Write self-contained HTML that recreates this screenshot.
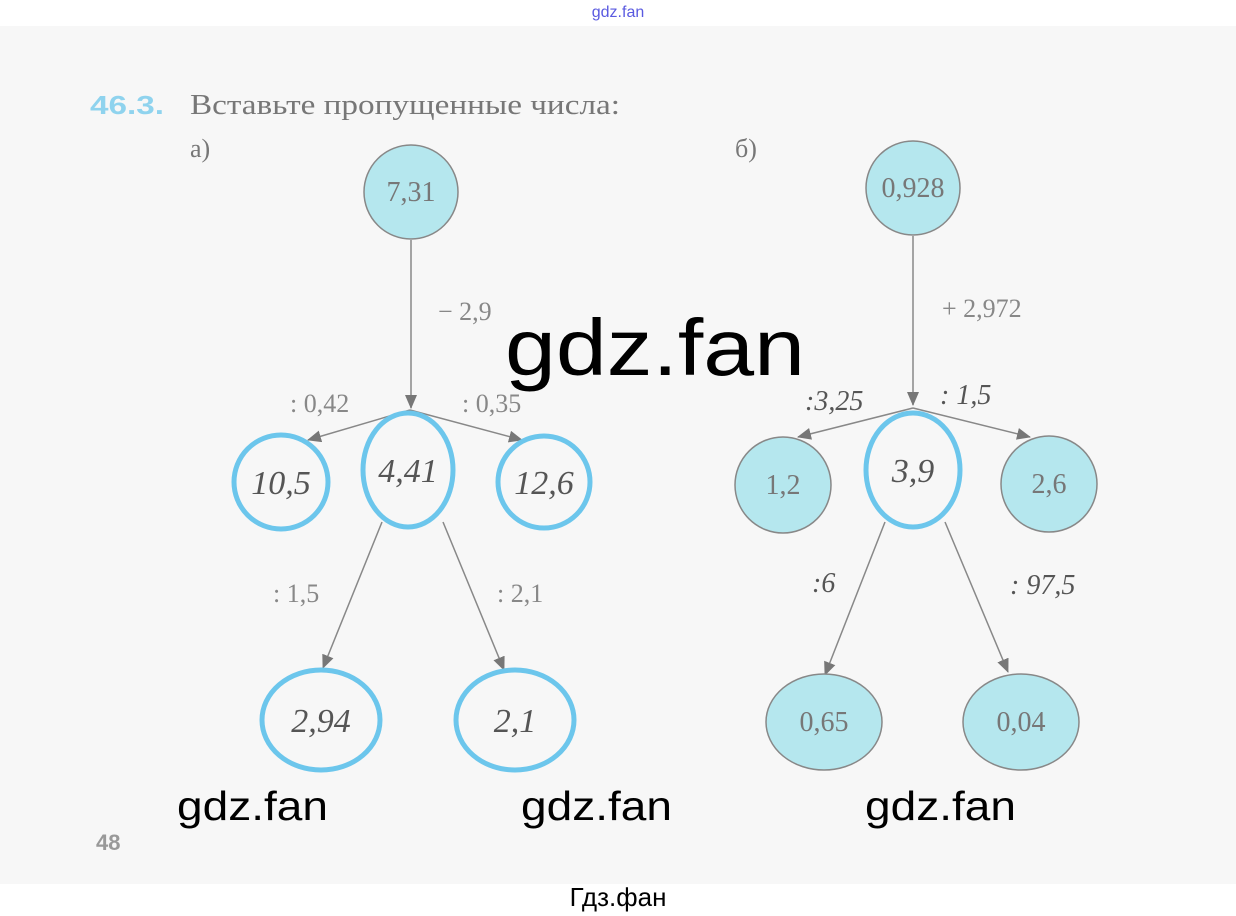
<!DOCTYPE html>
<html><head><meta charset="utf-8"><style>
html,body{margin:0;padding:0;background:#fff;}
svg{display:block;}
</style></head><body>
<svg width="1236" height="916" viewBox="0 0 1236 916" xmlns="http://www.w3.org/2000/svg">
<defs>
<marker id="ar" markerWidth="14" markerHeight="12" refX="13" refY="6" orient="auto" markerUnits="userSpaceOnUse">
<path d="M0,0 L14,6 L0,12 Z" fill="#777"/>
</marker>
</defs>
<rect x="0" y="26" width="1236" height="858" fill="#f7f7f7"/>
<text x="618" y="17" font-family="Liberation Sans, sans-serif" font-size="16" fill="#5a5ae0" text-anchor="middle">gdz.fan</text>
<text x="90" y="114" font-family="Liberation Sans, sans-serif" font-weight="bold" font-size="26" fill="#8fd3ee" textLength="74" lengthAdjust="spacingAndGlyphs">46.3.</text>
<text x="190" y="114" font-family="Liberation Serif, serif" font-size="28" fill="#777" textLength="430" lengthAdjust="spacingAndGlyphs">Вставьте пропущенные числа:</text>
<text x="190" y="157" font-family="Liberation Serif, serif" font-size="26" fill="#777">а)</text>
<text x="735" y="157" font-family="Liberation Serif, serif" font-size="26" fill="#777">б)</text>

<g stroke="#888" stroke-width="1.5" fill="none">
<line x1="411" y1="240" x2="411" y2="408" marker-end="url(#ar)"/>
<line x1="410" y1="410" x2="308" y2="440" marker-end="url(#ar)"/>
<line x1="410" y1="410" x2="522" y2="440" marker-end="url(#ar)"/>
<line x1="382" y1="522" x2="323" y2="668" marker-end="url(#ar)"/>
<line x1="443" y1="522" x2="504" y2="670" marker-end="url(#ar)"/>
<line x1="913" y1="236" x2="913" y2="405" marker-end="url(#ar)"/>
<line x1="913" y1="408" x2="798" y2="437" marker-end="url(#ar)"/>
<line x1="913" y1="408" x2="1030" y2="437" marker-end="url(#ar)"/>
<line x1="885" y1="522" x2="825" y2="675" marker-end="url(#ar)"/>
<line x1="945" y1="522" x2="1008" y2="672" marker-end="url(#ar)"/>
</g>

<g fill="#b5e7ee" stroke="#888" stroke-width="1.5">
<circle cx="411" cy="192" r="47"/>
<circle cx="913" cy="188" r="47"/>
<circle cx="783" cy="485" r="48"/>
<circle cx="1049" cy="484" r="48"/>
<ellipse cx="824" cy="722" rx="58" ry="48"/>
<ellipse cx="1021" cy="722" rx="58" ry="48"/>
</g>
<g fill="none" stroke="#6cc6ec" stroke-width="5">
<ellipse cx="408" cy="470" rx="45" ry="57"/>
<ellipse cx="281" cy="482" rx="47" ry="47"/>
<ellipse cx="544" cy="482" rx="46" ry="46"/>
<ellipse cx="321" cy="720" rx="59" ry="50"/>
<ellipse cx="515" cy="720" rx="59" ry="50"/>
<ellipse cx="913" cy="470" rx="47" ry="57"/>
</g>

<g font-family="Liberation Serif, serif" font-size="28" fill="#777" text-anchor="middle">
<text x="411" y="201">7,31</text>
<text x="913" y="197">0,928</text>
<text x="783" y="494">1,2</text>
<text x="1049" y="493">2,6</text>
<text x="824" y="731">0,65</text>
<text x="1021" y="731">0,04</text>
</g>
<g font-family="Liberation Serif, serif" font-size="26" fill="#888">
<text x="438" y="320">− 2,9</text>
<text x="290" y="412">: 0,42</text>
<text x="462" y="412">: 0,35</text>
<text x="273" y="602">: 1,5</text>
<text x="497" y="602">: 2,1</text>
<text x="942" y="317">+ 2,972</text>
</g>
<g font-family="Liberation Serif, serif" font-style="italic" font-size="34" fill="#555">
<text x="281" y="494" text-anchor="middle">10,5</text>
<text x="408" y="482" text-anchor="middle">4,41</text>
<text x="544" y="494" text-anchor="middle">12,6</text>
<text x="321" y="732" text-anchor="middle">2,94</text>
<text x="515" y="732" text-anchor="middle">2,1</text>
<text x="913" y="482" text-anchor="middle">3,9</text>
<text x="805" y="410" font-size="28">:3,25</text>
<text x="940" y="404" font-size="28">: 1,5</text>
<text x="812" y="592" font-size="28">:6</text>
<text x="1010" y="594" font-size="28">: 97,5</text>
</g>

<g font-family="Liberation Sans, DejaVu Sans, sans-serif" fill="#000">
<text x="505" y="375" font-size="80" textLength="300" lengthAdjust="spacingAndGlyphs">gdz.fan</text>
<text x="177" y="820" font-size="41" textLength="151" lengthAdjust="spacingAndGlyphs">gdz.fan</text>
<text x="521" y="820" font-size="41" textLength="151" lengthAdjust="spacingAndGlyphs">gdz.fan</text>
<text x="865" y="820" font-size="41" textLength="151" lengthAdjust="spacingAndGlyphs">gdz.fan</text>
<text x="618" y="906" font-size="26" text-anchor="middle">Гдз.фан</text>
</g>
<text x="96" y="850" font-family="Liberation Sans, sans-serif" font-weight="bold" font-size="22" fill="#999">48</text>
</svg>
</body></html>
